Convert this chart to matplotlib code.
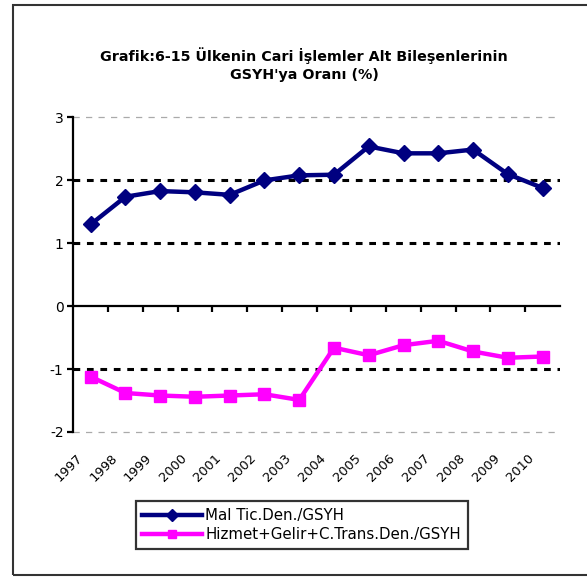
import matplotlib
matplotlib.use("Agg")
import matplotlib.pyplot as plt
from matplotlib.patches import Rectangle
from matplotlib.transforms import ScaledTranslation

# data
years = ["1997", "1998", "1999", "2000", "2001", "2002", "2003",
         "2004", "2005", "2006", "2007", "2008", "2009", "2010"]
mal_tic = [1.30, 1.74, 1.83, 1.81, 1.77, 2.00, 2.08,
           2.09, 2.54, 2.43, 2.43, 2.49, 2.10, 1.88]
hizmet = [-1.12, -1.38, -1.42, -1.44, -1.42, -1.40, -1.49,
          -0.66, -0.78, -0.62, -0.55, -0.72, -0.82, -0.80]
y_ticks = [-2, -1, 0, 1, 2, 3]

plt.rcParams['font.family'] = ['DejaVu Sans']

fig = plt.figure(figsize=(5.87, 5.77), dpi=100)
ax = fig.add_axes([0.1249, 0.2513, 0.829, 0.5451])

x = list(range(len(years)))
ax.set_xlim(-0.5, len(years) - 0.5)
ax.set_ylim(-2, 3)

# gridlines
for v in (1, 2, -1):
    ax.axhline(v, color="black", lw=2.2, ls=(0, (2.2, 2.2)), zorder=1)
for v in (3, -2):
    ax.axhline(v, color="#aaaaaa", lw=0.9, ls=(0, (5, 5)), zorder=1,
               clip_on=False)

ax.plot(x, mal_tic, color="#000080", lw=3.2, marker="D", markersize=8,
        label="Mal Tic.Den./GSYH", zorder=3)
ax.plot(x, hizmet, color="#ff00ff", lw=3.2, marker="s", markersize=8.5,
        label="Hizmet+Gelir+C.Trans.Den./GSYH", zorder=3)

# axes: x axis crosses at zero, category ticks between points
for s in ("top", "right"):
    ax.spines[s].set_visible(False)
ax.spines["left"].set_linewidth(1.6)
ax.spines["bottom"].set_position(("data", 0))
ax.spines["bottom"].set_linewidth(1.6)
ax.set_xticks([i + 0.5 for i in x[:-1]])
ax.set_xticklabels([])
ax.tick_params(axis="x", direction="out", length=4, width=1.6)
ax.set_yticks(y_ticks)
ax.set_yticklabels([str(v) for v in y_ticks], fontsize=10)
ax.tick_params(axis="y", direction="out", length=4, width=1.6, pad=3)

# year labels at the bottom of the plot area
sec = ax.secondary_xaxis(0.0)
sec.spines["bottom"].set_visible(False)
sec.set_xticks(x)
sec.set_xticklabels(years, rotation=45, ha="right", va="top",
                    rotation_mode="anchor", fontsize=9.4)
sec.tick_params(axis="x", length=0, pad=14)
shift = ScaledTranslation(-0.15, 0.0, fig.dpi_scale_trans)
for lab in sec.get_xticklabels():
    lab.set_transform(lab.get_transform() + shift)

fig.text(0.518, 0.888, "Grafik:6-15 Ülkenin Cari İşlemler Alt Bileşenlerinin\nGSYH'ya Oranı (%)",
         ha="center", va="center", fontsize=10.3, fontweight="bold", linespacing=1.45)

leg = fig.legend(loc="center", bbox_to_anchor=(0.514, 0.090), fontsize=10.8,
                 frameon=True, fancybox=False, handlelength=4.0, markerscale=0.75,
                 borderpad=0.45, labelspacing=0.3, handletextpad=0.2)
leg.get_frame().set_edgecolor("black")
leg.get_frame().set_linewidth(1.6)

# outer chart border
fig.patches.append(Rectangle((13 / 587, 2 / 577), 1.2, 570 / 577,
                             transform=fig.transFigure, fill=False,
                             edgecolor="#333333", lw=1.5))

fig.savefig("out.png", dpi=100)
